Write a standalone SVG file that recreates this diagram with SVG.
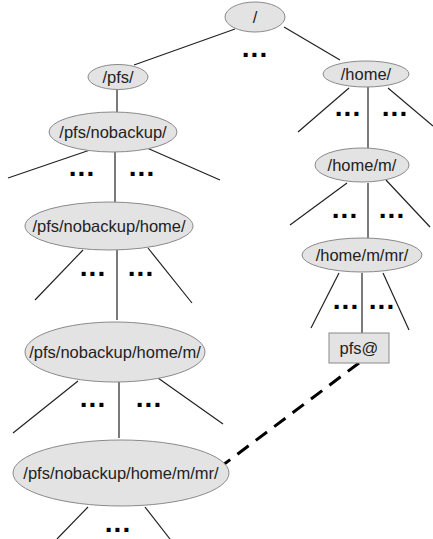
<svg xmlns="http://www.w3.org/2000/svg" width="433" height="539" viewBox="0 0 433 539">
  <style>
    .node ellipse, .node rect { fill: #e3e3e3; stroke: #8a8a8a; stroke-width: 1; }
    .label { font-family: "Liberation Sans", Arial, sans-serif; font-size: 16.5px; fill: #222; text-anchor: middle; }
    .edge { stroke: #222; stroke-width: 1.2; fill: none; }
    .link { stroke: #000; stroke-width: 3; stroke-dasharray: 14 9; fill: none; }
    .dots { font-family: "Liberation Sans", Arial, sans-serif; font-size: 28px; font-weight: bold; letter-spacing: 1px; fill: #000; text-anchor: middle; }
  </style>
  <rect width="433" height="539" fill="#ffffff"/>

  <g id="connectors">
    <!-- / -->
    <line class="edge" x1="235" y1="29" x2="134" y2="65"/>
    <line class="edge" x1="284" y1="27" x2="340" y2="60"/>
    <!-- /pfs/ -->
    <line class="edge" x1="117" y1="90" x2="117" y2="112"/>
    <!-- /pfs/nobackup/ -->
    <line class="edge" x1="90" y1="150" x2="8" y2="178"/>
    <line class="edge" x1="115" y1="152" x2="115" y2="202"/>
    <line class="edge" x1="147" y1="148" x2="220" y2="180"/>
    <!-- /pfs/nobackup/home/ -->
    <line class="edge" x1="83" y1="250" x2="35" y2="300"/>
    <line class="edge" x1="117" y1="250" x2="117" y2="320"/>
    <line class="edge" x1="148" y1="248" x2="192" y2="303"/>
    <!-- /pfs/nobackup/home/m/ -->
    <line class="edge" x1="78" y1="381" x2="13" y2="433"/>
    <line class="edge" x1="119" y1="382" x2="119" y2="438"/>
    <line class="edge" x1="158" y1="378" x2="223" y2="424"/>
    <!-- /pfs/nobackup/home/m/mr/ -->
    <line class="edge" x1="88" y1="507" x2="57" y2="539"/>
    <line class="edge" x1="145" y1="507" x2="170" y2="539"/>
    <!-- /home/ -->
    <line class="edge" x1="349" y1="88" x2="298" y2="132"/>
    <line class="edge" x1="368" y1="87" x2="368" y2="148"/>
    <line class="edge" x1="388" y1="88" x2="433" y2="126"/>
    <!-- /home/m/ -->
    <line class="edge" x1="347" y1="183" x2="290" y2="225"/>
    <line class="edge" x1="368" y1="183" x2="368" y2="238"/>
    <line class="edge" x1="386" y1="180" x2="430" y2="227"/>
    <!-- /home/m/mr/ -->
    <line class="edge" x1="339" y1="273" x2="311" y2="328"/>
    <line class="edge" x1="362" y1="273" x2="362" y2="333"/>
    <line class="edge" x1="383" y1="273" x2="409" y2="330"/>
    <!-- symlink -->
    <line class="link" x1="359" y1="363" x2="223" y2="465"/>
  </g>

  <g id="ellipses">
    <text class="dots" x="255" y="57">...</text>
    <text class="dots" x="82" y="176">...</text>
    <text class="dots" x="142" y="176">...</text>
    <text class="dots" x="93" y="276">...</text>
    <text class="dots" x="141" y="276">...</text>
    <text class="dots" x="93" y="407">...</text>
    <text class="dots" x="149" y="407">...</text>
    <text class="dots" x="118" y="532">...</text>
    <text class="dots" x="348" y="116">...</text>
    <text class="dots" x="395" y="116">...</text>
    <text class="dots" x="345" y="218">...</text>
    <text class="dots" x="392" y="218">...</text>
    <text class="dots" x="346" y="309">...</text>
    <text class="dots" x="382" y="309">...</text>
  </g>

  <g id="root" class="node">
    <ellipse cx="255" cy="17" rx="30" ry="15"/>
    <text class="label" x="255" y="23">/</text>
  </g>
  <g id="pfs" class="node">
    <ellipse cx="118" cy="77" rx="30" ry="12.5"/>
    <text class="label" x="118" y="83">/pfs/</text>
  </g>
  <g id="pfs-nobackup" class="node">
    <ellipse cx="113" cy="132" rx="64" ry="20"/>
    <text class="label" x="113" y="138">/pfs/nobackup/</text>
  </g>
  <g id="pfs-nobackup-home" class="node">
    <ellipse cx="109" cy="226" rx="84" ry="24"/>
    <text class="label" x="109" y="232">/pfs/nobackup/home/</text>
  </g>
  <g id="pfs-nobackup-home-m" class="node">
    <ellipse cx="115" cy="352" rx="90" ry="30"/>
    <text class="label" x="115" y="358">/pfs/nobackup/home/m/</text>
  </g>
  <g id="pfs-nobackup-home-m-mr" class="node">
    <ellipse cx="121" cy="473" rx="108" ry="33"/>
    <text class="label" x="121" y="479">/pfs/nobackup/home/m/mr/</text>
  </g>
  <g id="home" class="node">
    <ellipse cx="366" cy="74" rx="43" ry="13"/>
    <text class="label" x="366" y="80">/home/</text>
  </g>
  <g id="home-m" class="node">
    <ellipse cx="362" cy="165" rx="47" ry="17"/>
    <text class="label" x="362" y="171">/home/m/</text>
  </g>
  <g id="home-m-mr" class="node">
    <ellipse cx="362" cy="255" rx="60" ry="17"/>
    <text class="label" x="362" y="261">/home/m/mr/</text>
  </g>
  <g id="pfs-link" class="node">
    <rect x="329" y="333" width="60" height="30"/>
    <text class="label" x="359" y="354">pfs@</text>
  </g>
</svg>
